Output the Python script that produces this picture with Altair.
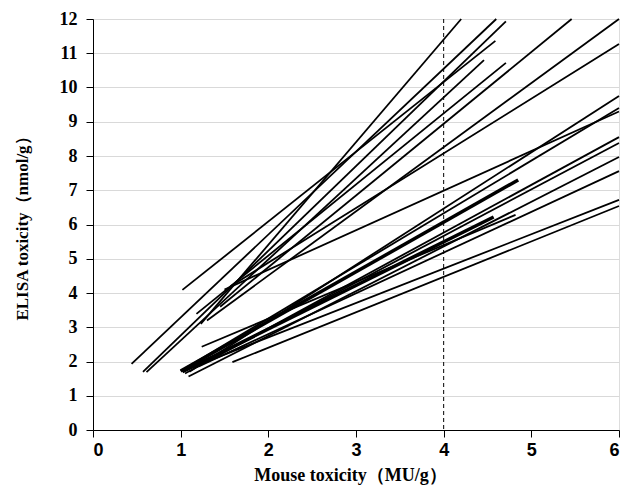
import altair as alt
import pandas as pd

# Regression lines: start and end points (Mouse toxicity, ELISA toxicity)
x_start = [0.44, 0.57, 0.61, 1.02, 1.23, 1.18, 1.45, 1.30, 1.57, 1.50,
           1.10, 1.00, 1.05, 1.15, 1.09, 1.20, 1.10, 1.59, 1.02, 1.24, 1.00]
y_start = [1.93, 1.70, 1.69, 4.09, 3.10, 3.39, 3.60, 3.20, 4.20, 4.10,
           1.70, 1.72, 1.65, 1.80, 1.56, 1.85, 1.80, 1.98, 1.70, 2.43, 1.72]
x_end = [4.60, 4.71, 4.46, 4.59, 4.20, 4.71, 5.46, 6.00, 6.00, 6.00,
         6.00, 6.00, 6.00, 6.00, 6.00, 6.00, 6.00, 6.00, 4.57, 4.82, 4.85]
y_end = [12.00, 11.93, 10.80, 11.36, 12.00, 10.72, 12.00, 12.00, 11.27, 9.30,
         9.75, 9.40, 8.55, 8.38, 7.97, 7.56, 6.72, 6.54, 6.22, 6.28, 7.30]
thick_ids = [18, 20]
cutoff = [4]

rows = []
for i in range(len(x_start)):
    w = "thick" if i in thick_ids else "thin"
    rows.append({"id": i, "x": x_start[i], "y": y_start[i], "w": w})
    rows.append({"id": i, "x": x_end[i], "y": y_end[i], "w": w})
df = pd.DataFrame(rows)

xs = alt.Scale(domain=[0, 6], nice=False)
ys = alt.Scale(domain=[0, 12], nice=False)

x_axis = alt.Axis(
    values=[0, 1, 2, 3, 4, 5, 6], format="d", grid=False, domainColor="black",
    tickColor="black", tickSize=7, labelFont="Liberation Sans", labelFontWeight="bold",
    labelFontSize=18, labelColor="black", labelPadding=4,
    title="Mouse toxicity（MU/g）", titleFont="Liberation Serif", titleFontWeight="bold",
    titleFontSize=18, titleColor="black", titleX=257, titleY=45, titleBaseline="middle",
)
y_axis = alt.Axis(
    values=list(range(13)), format="d", grid=True, gridColor="#d9d9d9", gridWidth=1,
    domainColor="black", tickColor="black", tickSize=7,
    labelFont="Liberation Serif", labelFontWeight="bold", labelFontSize=18,
    labelColor="black", labelPadding=9,
    title="ELISA toxicity（nmol/g）", titleFont="Liberation Serif", titleFontWeight="bold",
    titleFontSize=17, titleColor="black", titleX=-71, titleY=205, titleAngle=270,
    titleAlign="center", titleBaseline="middle",
)

lines = alt.Chart(df).mark_line(color="black").encode(
    x=alt.X("x:Q", scale=xs, axis=x_axis),
    y=alt.Y("y:Q", scale=ys, axis=y_axis),
    detail="id:N",
    strokeWidth=alt.condition(alt.datum.w == "thick", alt.value(3.5), alt.value(1.8)),
)

rule = alt.Chart(pd.DataFrame({"x": cutoff})).mark_rule(
    color="black", strokeDash=[4, 3], strokeWidth=1
).encode(x=alt.X("x:Q", scale=xs))

chart = alt.layer(rule, lines).properties(
    width=526, height=411,
    autosize=alt.AutoSizeParams(type="none"),
    padding={"left": 85, "top": 11, "right": 5, "bottom": 60},
).configure_view(stroke="black", strokeWidth=1.5).configure(background="white")

chart.save("out.html", embed_options={"renderer": "svg", "actions": False})
